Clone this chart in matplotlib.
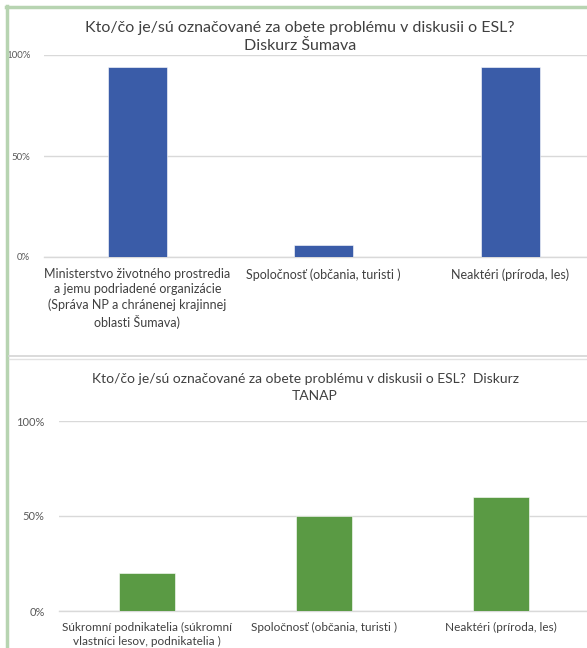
import matplotlib
matplotlib.use("Agg")
import matplotlib.pyplot as plt
from matplotlib.lines import Line2D

plt.rcParams['font.family'] = ['Lato', 'DejaVu Sans']

# Panel 1: Šumava discourse
sumava_categories = [
    "Ministerstvo životného prostredia\na jemu podriadené organizácie\n(Správa NP a chránenej krajinnej\noblasti Šumava)",
    "Spoločnosť (občania, turisti )",
    "Neaktéri (príroda, les)",
]
sumava_values = [0.94, 0.06, 0.94]

# Panel 2: TANAP discourse
tanap_categories = [
    "Súkromní podnikatelia (súkromní\nvlastníci lesov, podnikatelia )",
    "Spoločnosť (občania, turisti )",
    "Neaktéri (príroda, les)",
]
tanap_values = [0.20, 0.50, 0.60]

tick_values = [0, 0.5, 1.0]
tick_labels = ["0%", "50%", "100%"]

W, H = 587, 648
fig = plt.figure(figsize=(W / 100, H / 100), dpi=100)
fig.patch.set_facecolor("white")

def px(x, y):
    return x / W, 1 - y / H

# frame: light green border on the left and top, grey divider between panels
border = "#b7d4b1"
fig.add_artist(Line2D([7 / W, 7 / W], [0, 1 - 6 / H], color=border, lw=2.5, transform=fig.transFigure))
fig.add_artist(Line2D([6 / W, 1], [1 - 7 / H, 1 - 7 / H], color=border, lw=2.5, transform=fig.transFigure))
fig.add_artist(Line2D([9 / W, 1], [1 - 356 / H, 1 - 356 / H], color="#d4d4d4", lw=1.2, transform=fig.transFigure))
fig.add_artist(Line2D([9 / W, 1], [1 - 359 / H, 1 - 359 / H], color="#e2e2e2", lw=1.0, transform=fig.transFigure))

grid_c = "#d9d9d9"
text_c = "#404040"
tick_c = "#595959"

def panel(rect, cats, vals, color, width, tick_fs, cat_fs, spacing):
    ax = fig.add_axes(rect)
    x = list(range(len(cats)))
    ax.bar(x, vals, width=width, color=color, zorder=3,
           edgecolor="#ffffff", linewidth=0.4)
    ax.set_xlim(-0.5, len(cats) - 0.5)
    ax.set_ylim(0, 1)
    ax.set_yticks(tick_values)
    ax.set_yticklabels(tick_labels, fontsize=tick_fs, color=tick_c)
    ax.set_xticks(x)
    ax.set_xticklabels(cats, fontsize=cat_fs, color=text_c, linespacing=spacing, va="top")
    ax.yaxis.grid(True, color=grid_c, lw=1.0, zorder=0)
    ax.tick_params(axis="both", length=0)
    ax.tick_params(axis="y", pad=10)
    ax.tick_params(axis="x", pad=8)
    for s in ("top", "right", "left"):
        ax.spines[s].set_visible(False)
    ax.spines["bottom"].set_color(grid_c)
    ax.spines["bottom"].set_linewidth(1.0)
    ax.set_facecolor("none")
    return ax

# top panel
l, b = px(44, 257)
_, t = px(0, 55)
panel([l, b, 559.5 / W, t - b], sumava_categories, sumava_values,
      "#3a5ca8", 0.315, 7, 9, 1.33)

# bottom panel
l, b = px(58.5, 611)
_, t = px(0, 421)
panel([l, b, 531 / W, t - b], tanap_categories, tanap_values,
      "#5a9a44", 0.316, 8, 8.5, 1.3)

fig.text(*px(300, 28), "Kto/čo je/sú označované za obete problému v diskusii o ESL?",
         ha="center", va="center", fontsize=11.5, color=text_c)
fig.text(*px(300, 46), "Diskurz Šumava", ha="center", va="center", fontsize=11.5, color=text_c)
fig.text(*px(306, 379), "Kto/čo je/sú označované za obete problému v diskusii o ESL?  Diskurz",
         ha="center", va="center", fontsize=10, color=text_c)
fig.text(*px(315, 396), "TANAP", ha="center", va="center", fontsize=10, color=text_c)

fig.savefig("out.png", dpi=100)
